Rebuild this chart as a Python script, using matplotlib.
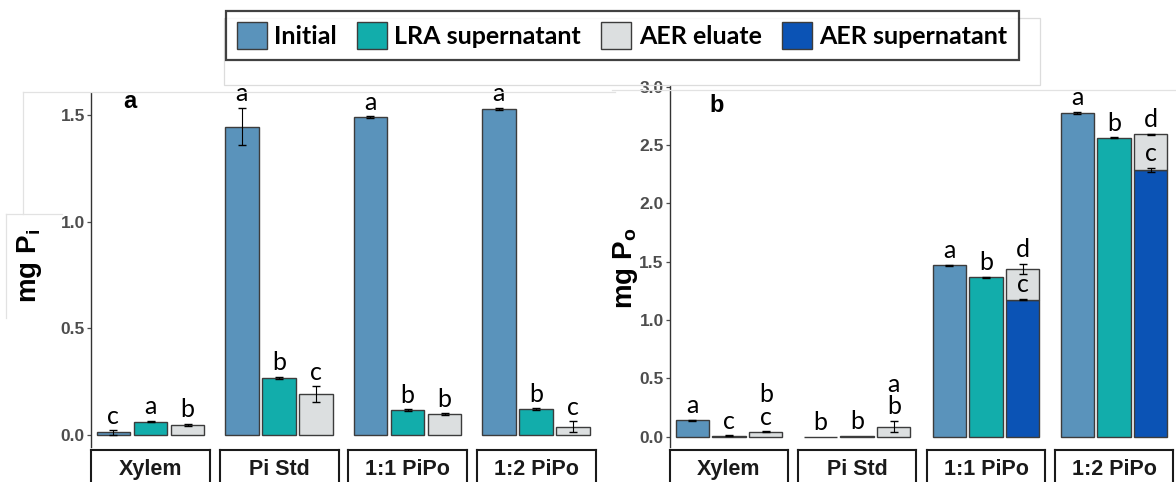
import numpy as np
import matplotlib.pyplot as plt
from matplotlib.lines import Line2D
from matplotlib.patches import Patch, Rectangle


# ============================================================
# Data
# ============================================================

FACETS = ["Xylem", "Pi Std", "1:1 PiPo", "1:2 PiPo"]
SERIES = ["Initial", "LRA supernatant", "AER eluate", "AER supernatant"]

# panel a: inorganic P (mg Pi)
PI_INITIAL = [0.012, 1.445, 1.490, 1.528]
PI_INITIAL_ERR = [0.010, 0.088, 0.003, 0.006]
PI_LRA = [0.063, 0.267, 0.117, 0.122]
PI_LRA_ERR = [0.003, 0.006, 0.003, 0.003]
PI_ELUATE = [0.047, 0.192, 0.098, 0.039]
PI_ELUATE_ERR = [0.006, 0.036, 0.003, 0.025]

PI_INITIAL_LETTERS = ["c", "a", "a", "a"]
PI_LRA_LETTERS = ["a", "b", "b", "b"]
PI_ELUATE_LETTERS = ["b", "c", "b", "c"]

# panel b: organic P (mg Po); eluate is stacked on AER supernatant
PO_INITIAL = [0.142, 0.002, 1.470, 2.775]
PO_INITIAL_ERR = [0.004, 0.0, 0.004, 0.010]
PO_LRA = [0.010, 0.006, 1.367, 2.560]
PO_LRA_ERR = [0.002, 0.0, 0.004, 0.004]
PO_AER_SUPER = [0.0, 0.0, 1.175, 2.284]
PO_AER_SUPER_ERR = [0.0, 0.0, 0.006, 0.020]
PO_ELUATE = [0.043, 0.088, 0.265, 0.306]
PO_ELUATE_ERR = [0.004, 0.050, 0.044, 0.005]

PO_INITIAL_LETTERS = ["a", "b", "a", "a"]
PO_LRA_LETTERS = ["c", "b", "b", "b"]
PO_ELUATE_LETTERS = ["b\nc", "a\nb", "d", "d"]
PO_AER_SUPER_LETTERS = ["", "", "c", "c"]

PI_TICKS = [0.0, 0.5, 1.0, 1.5]
PO_TICKS = [0.0, 0.5, 1.0, 1.5, 2.0, 2.5, 3.0]


# ============================================================
# Style
# ============================================================

W, H = 1176, 482

COLORS = {
    "Initial": "#5a93bb",
    "LRA supernatant": "#12adab",
    "AER eluate": "#dcdfe0",
    "AER supernatant": "#0b53b5",
}
EDGE = "#3c3c3c"
TICK_GREY = "#4d4d4d"

SANS = ["Liberation Sans", "DejaVu Sans"]
NARROW = ["Liberation Sans Narrow", "Liberation Sans", "DejaVu Sans"]
HUMANIST = ["Lato", "DejaVu Sans"]

BAR_WIDTH = 0.9


def px_rect(x0, y0, x1, y1):
    """Pixel box (top-left origin) -> figure fraction rect."""
    return [x0 / W, 1 - y1 / H, (x1 - x0) / W, (y1 - y0) / H]


def letter(ax, x, y, text):
    if not text:
        return
    ax.annotate(
        text, (x, y), xytext=(0, 2.0), textcoords="offset points",
        ha="center", va="bottom", fontsize=18, family=HUMANIST,
        linespacing=0.95, annotation_clip=False,
    )


def bar(ax, x, height, err, color, bottom=0.0):
    ax.bar(x, height, width=BAR_WIDTH, bottom=bottom, color=color,
           edgecolor=EDGE, linewidth=1.0)
    if err > 0:
        ax.errorbar(x, bottom + height, yerr=err, fmt="none",
                    ecolor="black", elinewidth=0.8, capsize=2.6,
                    capthick=1.0)


def style_facet(ax, ylim, ticks, first):
    ax.set_xlim(-0.6, 2.6)
    ax.set_ylim(*ylim)
    ax.set_xticks([])
    for side in ["top", "right", "bottom"]:
        ax.spines[side].set_visible(False)
    if first:
        ax.spines["left"].set_color("#333333")
        ax.spines["left"].set_linewidth(1.0)
        ax.set_yticks(ticks)
        ax.set_yticklabels([f"{t:.1f}" for t in ticks])
        ax.tick_params(axis="y", length=3, width=0.9, color=TICK_GREY,
                       labelcolor=TICK_GREY, labelsize=12.5, pad=1.5)
        for lab in ax.get_yticklabels():
            lab.set_fontweight("bold")
            lab.set_family(SANS)
    else:
        ax.spines["left"].set_visible(False)
        ax.set_yticks([])
    ax.patch.set_alpha(0)


def add_strip(fig, x0, x1, label):
    sax = fig.add_axes(px_rect(x0, 450, x1, 489))
    sax.set_xticks([])
    sax.set_yticks([])
    for sp in sax.spines.values():
        sp.set_linewidth(1.5)
        sp.set_color("#1a1a1a")
    sax.text(0.5, 0.50, label, ha="center", va="center", fontsize=15.5,
             fontweight="bold", family=NARROW, color="#1a1a1a",
             transform=sax.transAxes)


def faint_line(fig, x0, y0, x1, y1):
    fig.add_artist(Line2D([x0 / W, x1 / W], [1 - y0 / H, 1 - y1 / H],
                          color="#e2e2e2", linewidth=0.9,
                          transform=fig.transFigure))


def main() -> None:
    fig = plt.figure(figsize=(W / 100, H / 100), dpi=100)
    fig.patch.set_facecolor("white")

    # faint frames left over from the panel layout
    faint_line(fig, 23, 92, 615, 92)
    faint_line(fig, 23, 92, 23, 214)
    faint_line(fig, 6, 214, 62, 214)
    faint_line(fig, 6, 214, 6, 318)
    faint_line(fig, 612, 90, 1176, 90)
    fig.add_artist(Rectangle((224 / W, 1 - 85 / H), (1040 - 224) / W,
                             (85 - 18) / H, fill=False, edgecolor="#dcdcdc",
                             linewidth=0.9, transform=fig.transFigure))

    # ---------------- panel a ----------------
    a_left = [91, 219.5, 348, 476.5]
    for i, name in enumerate(FACETS):
        ax = fig.add_axes(px_rect(a_left[i], 93, a_left[i] + 119, 447))
        bar(ax, 0, PI_INITIAL[i], PI_INITIAL_ERR[i], COLORS["Initial"])
        bar(ax, 1, PI_LRA[i], PI_LRA_ERR[i], COLORS["LRA supernatant"])
        bar(ax, 2, PI_ELUATE[i], PI_ELUATE_ERR[i], COLORS["AER eluate"])
        letter(ax, 0, PI_INITIAL[i] + PI_INITIAL_ERR[i], PI_INITIAL_LETTERS[i])
        letter(ax, 1, PI_LRA[i] + PI_LRA_ERR[i], PI_LRA_LETTERS[i])
        letter(ax, 2, PI_ELUATE[i] + PI_ELUATE_ERR[i], PI_ELUATE_LETTERS[i])
        style_facet(ax, (-0.056, 1.603), PI_TICKS, i == 0)
        add_strip(fig, a_left[i], a_left[i] + 119, name)

    # ---------------- panel b ----------------
    b_left = [670, 798, 927, 1055]
    for i, name in enumerate(FACETS):
        ax = fig.add_axes(px_rect(b_left[i], 86, b_left[i] + 118, 446.7))
        bar(ax, 0, PO_INITIAL[i], PO_INITIAL_ERR[i], COLORS["Initial"])
        bar(ax, 1, PO_LRA[i], PO_LRA_ERR[i], COLORS["LRA supernatant"])
        base = PO_AER_SUPER[i]
        if base > 0:
            bar(ax, 2, base, PO_AER_SUPER_ERR[i], COLORS["AER supernatant"])
        bar(ax, 2, PO_ELUATE[i], PO_ELUATE_ERR[i], COLORS["AER eluate"],
            bottom=base)
        letter(ax, 0, PO_INITIAL[i] + PO_INITIAL_ERR[i], PO_INITIAL_LETTERS[i])
        letter(ax, 1, PO_LRA[i] + PO_LRA_ERR[i], PO_LRA_LETTERS[i])
        letter(ax, 2, base + PO_AER_SUPER_ERR[i], PO_AER_SUPER_LETTERS[i])
        letter(ax, 2, base + PO_ELUATE[i] + PO_ELUATE_ERR[i],
               PO_ELUATE_LETTERS[i])
        style_facet(ax, (-0.085, 3.005), PO_TICKS, i == 0)
        add_strip(fig, b_left[i], b_left[i] + 118, name)

    # axis titles and panel tags
    fig.text(30 / W, 1 - 266 / H, r"mg P$_\mathregular{i}$", rotation=90,
             ha="center", va="center", fontsize=20, fontweight="bold",
             family=SANS)
    fig.text(625 / W, 1 - 268 / H, r"mg P$_\mathregular{o}$", rotation=90,
             ha="center", va="center", fontsize=20, fontweight="bold",
             family=SANS)
    fig.text(130 / W, 1 - 102 / H, "a", ha="center", va="center",
             fontsize=17, fontweight="bold", family=SANS)
    fig.text(717 / W, 1 - 105 / H, "b", ha="center", va="center",
             fontsize=17, fontweight="bold", family=SANS)

    # legend
    handles = [Patch(facecolor=COLORS[s], edgecolor=EDGE, linewidth=1.0,
                     label=s) for s in SERIES]
    leg = fig.legend(
        handles=handles, ncol=4, loc="center",
        bbox_to_anchor=((224 + 1020) / 2 / W, 1 - 35.5 / H),
        frameon=True, fancybox=False, handlelength=1.2, handleheight=1.3,
        handletextpad=0.3, columnspacing=0.8, borderpad=0.45,
        prop={"family": HUMANIST, "size": 18, "weight": "bold"},
    )
    frame = leg.get_frame()
    frame.set_edgecolor("#111111")
    frame.set_linewidth(1.6)

    fig.savefig("out.png", dpi=100)
    plt.close(fig)


if __name__ == "__main__":
    main()
